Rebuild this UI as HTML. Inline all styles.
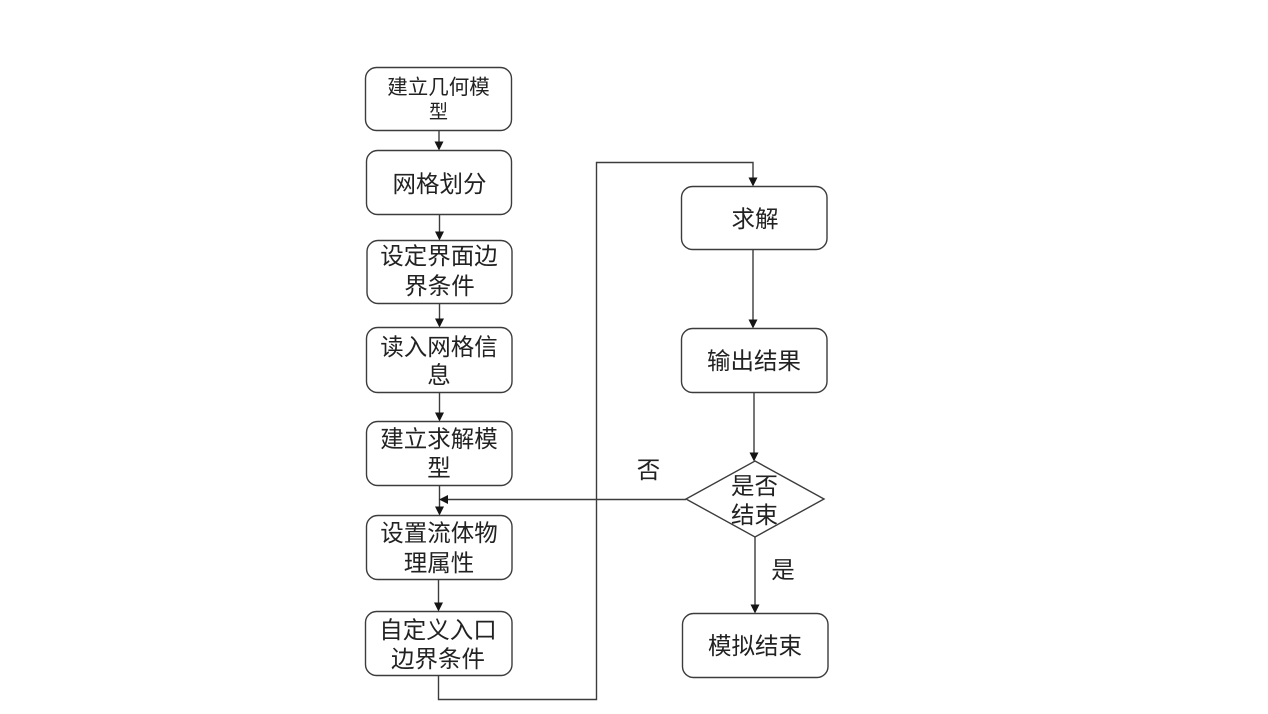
<!DOCTYPE html>
<html lang="zh">
<head>
<meta charset="utf-8">
<style>
html,body{margin:0;padding:0;background:#fff;width:1268px;height:714px;overflow:hidden}
svg{display:block;position:absolute;left:0;top:0;filter:blur(0.35px)}
text{font-family:"Liberation Sans","Noto Sans CJK SC",sans-serif;fill:#222;text-anchor:middle}
.b{fill:#fff;stroke:#3c3c3c;stroke-width:1.4}
.l{fill:none;stroke:#3c3c3c;stroke-width:1.4}
.a{fill:#151515;stroke:none}
.t{font-size:23.5px}
</style>
</head>
<body>
<svg width="1268" height="714" viewBox="0 0 1268 714" xmlns="http://www.w3.org/2000/svg">
<!-- connectors -->
<path class="l" d="M439 130V143M439.500 214V233M439.500 303V320M439.500 392V414M439.500 485V508M438.500 579V604"/>
<path class="l" d="M438.500 675V699.500H596.500V162.500H753V178"/>
<path class="l" d="M753 249V320M754 392V453M755 537V605"/>
<path class="l" d="M686 499.500H448"/>
<!-- arrowheads -->
<path class="a" d="M434.500 141.500H443.500L439 150.500Z"/>
<path class="a" d="M435 231.500H444L439.500 240.500Z"/>
<path class="a" d="M435 318.500H444L439.500 327.500Z"/>
<path class="a" d="M435 412.500H444L439.500 421.500Z"/>
<path class="a" d="M435 506.500H444L439.500 515.500Z"/>
<path class="a" d="M434 602.500H443L438.500 611.500Z"/>
<path class="a" d="M748.500 177.500H757.500L753 186.500Z"/>
<path class="a" d="M748.500 319.500H757.500L753 328.500Z"/>
<path class="a" d="M749.500 452.500H758.500L754 461.500Z"/>
<path class="a" d="M750.500 604.500H759.500L755 613.500Z"/>
<path class="a" d="M448 495V504L439 499.500Z"/>
<!-- left boxes -->
<rect class="b" x="365.500" y="67.500" width="146" height="63" rx="11"/>
<rect class="b" x="366.500" y="150.500" width="145" height="64" rx="11"/>
<rect class="b" x="367" y="240.500" width="145" height="63" rx="11"/>
<rect class="b" x="366.500" y="327.500" width="145.500" height="65" rx="11"/>
<rect class="b" x="366.500" y="421.500" width="145.500" height="64" rx="11"/>
<rect class="b" x="366.500" y="515.500" width="145.500" height="64" rx="11"/>
<rect class="b" x="365.500" y="611.500" width="146.500" height="64" rx="11"/>
<!-- right boxes -->
<rect class="b" x="681.500" y="186.500" width="145.500" height="63" rx="11"/>
<rect class="b" x="681.500" y="328.500" width="145.500" height="64" rx="11"/>
<rect class="b" x="682.500" y="613.500" width="145.500" height="64" rx="11"/>
<path class="b" d="M755 461L824 499L755 537L686 499Z"/>
<!-- labels -->
<text x="438.500" y="94" font-size="20.500">建立几何模</text>
<text x="438.500" y="118" font-size="19">型</text>
<text class="t" x="439.500" y="192">网格划分</text>
<text class="t" x="439" y="264">设定界面边</text>
<text class="t" x="439.500" y="294">界条件</text>
<text class="t" x="439" y="355">读入网格信</text>
<text class="t" x="439" y="383">息</text>
<text class="t" x="439" y="447">建立求解模</text>
<text class="t" x="439" y="476">型</text>
<text class="t" x="439" y="541">设置流体物</text>
<text class="t" x="439" y="571">理属性</text>
<text class="t" x="438" y="638">自定义入口</text>
<text class="t" x="438" y="667">边界条件</text>
<text class="t" x="755" y="227">求解</text>
<text class="t" x="754" y="369">输出结果</text>
<text class="t" x="755" y="654">模拟结束</text>
<text class="t" x="754.500" y="494">是否</text>
<text class="t" x="754.500" y="523">结束</text>
<text class="t" x="648.500" y="478">否</text>
<text class="t" x="783" y="578">是</text>
</svg>
</body>
</html>
